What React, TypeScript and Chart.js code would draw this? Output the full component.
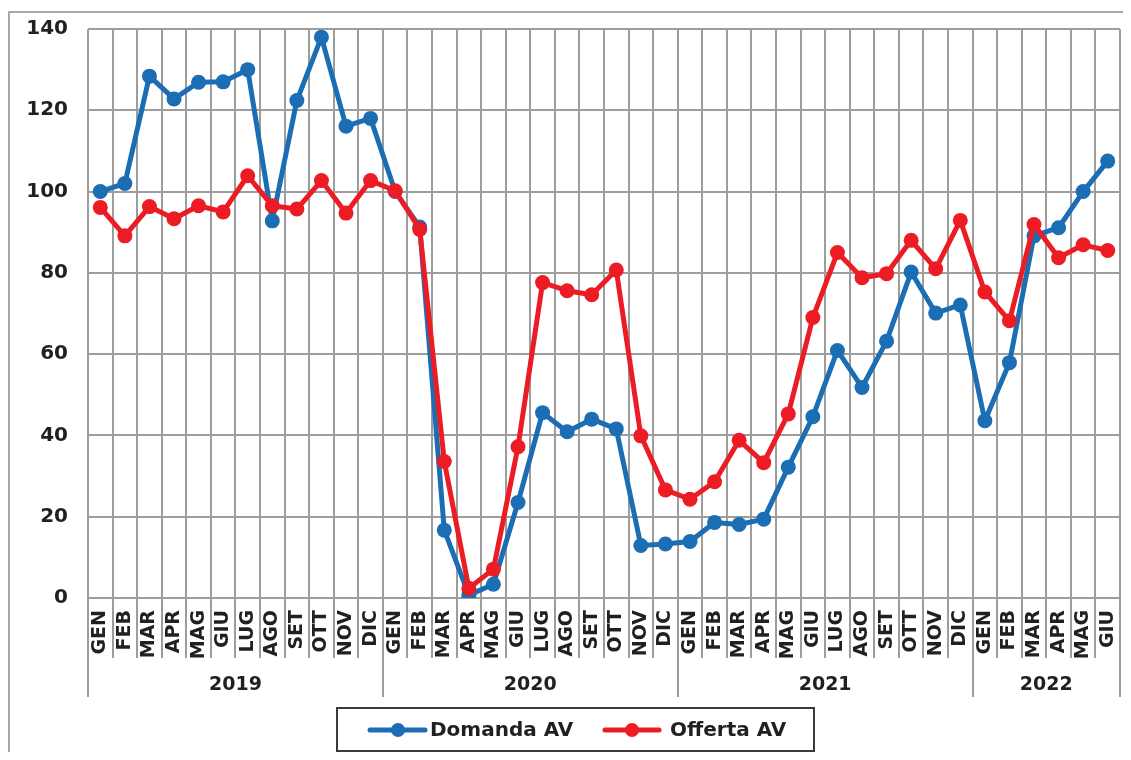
import React, { useEffect, useRef } from 'react';
import { Chart, registerables } from 'chart.js';

Chart.register(...registerables);

const MONTHS = ['GEN', 'FEB', 'MAR', 'APR', 'MAG', 'GIU', 'LUG', 'AGO', 'SET', 'OTT', 'NOV', 'DIC'];
const categories = [...MONTHS, ...MONTHS, ...MONTHS, ...MONTHS.slice(0, 6)];
const years = ['2019', '2020', '2021', '2022'];
const yearCounts = [12, 12, 12, 6];

const domandaAV = [
  100, 102, 128.4, 122.8, 126.9, 127, 130, 92.8, 122.4, 138, 116.1, 118,
  100, 91.3, 16.7, 0.7, 3.4, 23.5, 45.6, 40.9, 44, 41.6, 12.9, 13.3,
  13.9, 18.6, 18.1, 19.4, 32.2, 44.6, 60.9, 51.8, 63.2, 80.2, 70.1, 72.1,
  43.6, 57.9, 89.1, 91.1, 100, 107.5,
];
const offertaAV = [
  96.1, 89.1, 96.3, 93.3, 96.5, 95, 103.9, 96.5, 95.7, 102.7, 94.7, 102.7,
  100.2, 90.7, 33.6, 2.4, 7.1, 37.2, 77.6, 75.6, 74.6, 80.7, 39.9, 26.6,
  24.3, 28.6, 38.8, 33.3, 45.3, 69, 85, 78.8, 79.8, 88, 81, 92.9,
  75.3, 68.2, 91.9, 83.7, 86.9, 85.5,
];
const seriesNames = ['Domanda AV', 'Offerta AV'];
const yMin = 0;
const yMax = 140;
const yStep = 20;

const FONT = '"DejaVu Sans", "Liberation Sans", sans-serif';
const GRID = '#9d9d9d';
const BLUE = '#1b6db4';
const RED = '#ec1c24';
const TEXT = '#231f20';

const W = 1123;
const H = 744;

const decorPlugin = {
  id: 'decor',
  afterDraw(chart: any) {
    const { ctx, chartArea } = chart;
    const x = chart.scales.x;
    ctx.save();
    // outer frame
    ctx.strokeStyle = '#a8a8a8';
    ctx.lineWidth = 2;
    ctx.beginPath();
    ctx.moveTo(1, chart.height);
    ctx.lineTo(1, 4);
    ctx.lineTo(chart.width, 4);
    ctx.stroke();

    // category ticks below the axis
    const w = x.getPixelForValue(1) - x.getPixelForValue(0);
    const b = (i: number) => x.getPixelForValue(0) + (i - 0.5) * w;
    ctx.strokeStyle = GRID;
    ctx.lineWidth = 2;
    const bounds = new Set<number>();
    let acc = 0;
    bounds.add(0);
    yearCounts.forEach((c) => { acc += c; bounds.add(acc); });
    for (let i = 0; i <= categories.length; i++) {
      const px = Math.round(b(i));
      ctx.beginPath();
      ctx.moveTo(px, chartArea.bottom);
      ctx.lineTo(px, bounds.has(i) ? 689 : 650);
      ctx.stroke();
    }
    // year labels
    ctx.fillStyle = TEXT;
    ctx.font = `bold 19px ${FONT}`;
    ctx.textAlign = 'center';
    ctx.textBaseline = 'middle';
    let start = 0;
    years.forEach((yr, k) => {
      const end = start + yearCounts[k];
      ctx.fillText(yr, (b(start) + b(end)) / 2, 677);
      start = end;
    });

    // legend
    ctx.strokeStyle = '#3a3a3a';
    ctx.lineWidth = 2;
    ctx.strokeRect(329, 700, 477, 43);
    const items = [
      { name: seriesNames[0], color: BLUE, x0: 362, x1: 417, cx: 390, tx: 422 },
      { name: seriesNames[1], color: RED, x0: 597, x1: 651, cx: 624, tx: 662 },
    ];
    const ly = 722;
    items.forEach((it) => {
      ctx.strokeStyle = it.color;
      ctx.lineWidth = 5;
      ctx.lineCap = 'round';
      ctx.beginPath();
      ctx.moveTo(it.x0, ly);
      ctx.lineTo(it.x1, ly);
      ctx.stroke();
      ctx.fillStyle = it.color;
      ctx.beginPath();
      ctx.arc(it.cx, ly, 7, 0, Math.PI * 2);
      ctx.fill();
      ctx.fillStyle = TEXT;
      ctx.font = `bold 20px ${FONT}`;
      ctx.textAlign = 'left';
      ctx.textBaseline = 'middle';
      ctx.fillText(it.name, it.tx, ly + 1);
    });
    ctx.restore();
  },
};

export default function App() {
  const ref = useRef<HTMLCanvasElement | null>(null);
  useEffect(() => {
    if (!ref.current) return;
    const chart = new Chart(ref.current, {
      type: 'line',
      data: {
        labels: categories,
        datasets: [
          {
            label: seriesNames[0],
            data: domandaAV,
            borderColor: BLUE,
            backgroundColor: BLUE,
            borderWidth: 5,
            borderJoinStyle: 'round',
            pointRadius: 7.5,
            pointBorderWidth: 0,
            pointBackgroundColor: BLUE,
            tension: 0,
            order: 1,
          },
          {
            label: seriesNames[1],
            data: offertaAV,
            borderColor: RED,
            backgroundColor: RED,
            borderWidth: 5,
            borderJoinStyle: 'round',
            pointRadius: 7.5,
            pointBorderWidth: 0,
            pointBackgroundColor: RED,
            tension: 0,
            order: 0,
          },
        ],
      },
      options: {
        responsive: false,
        animation: false,
        layout: { padding: { top: 21, right: 11, left: 0, bottom: 0 } },
        plugins: {
          legend: { display: false },
          tooltip: { enabled: false },
        },
        scales: {
          x: {
            type: 'category',
            offset: true,
            grid: { offset: true, color: GRID, lineWidth: 2, drawTicks: false },
            border: { display: false },
            ticks: {
              autoSkip: false,
              minRotation: 90,
              maxRotation: 90,
              padding: 12,
              color: TEXT,
              font: { family: FONT, size: 19, weight: 'bold' },
            },
            afterFit: (s: any) => {
              s.height = 154;
              s.paddingLeft = 0;
              s.paddingRight = 0;
            },
          },
          y: {
            min: yMin,
            max: yMax,
            grid: { color: GRID, lineWidth: 2, drawTicks: false },
            border: { display: false },
            ticks: {
              stepSize: yStep,
              padding: 20,
              color: TEXT,
              font: { family: FONT, size: 20, weight: 'bold' },
            },
            afterFit: (s: any) => {
              s.width = 80;
              s.paddingTop = 0;
              s.paddingBottom = 0;
            },
          },
        },
      },
      plugins: [decorPlugin],
    });
    return () => chart.destroy();
  }, []);
  return (
    <div style={{ width: W, height: H, position: 'relative', overflow: 'hidden' }}>
      <canvas ref={ref} width={W} height={H} style={{ display: 'block' }} />
    </div>
  );
}
